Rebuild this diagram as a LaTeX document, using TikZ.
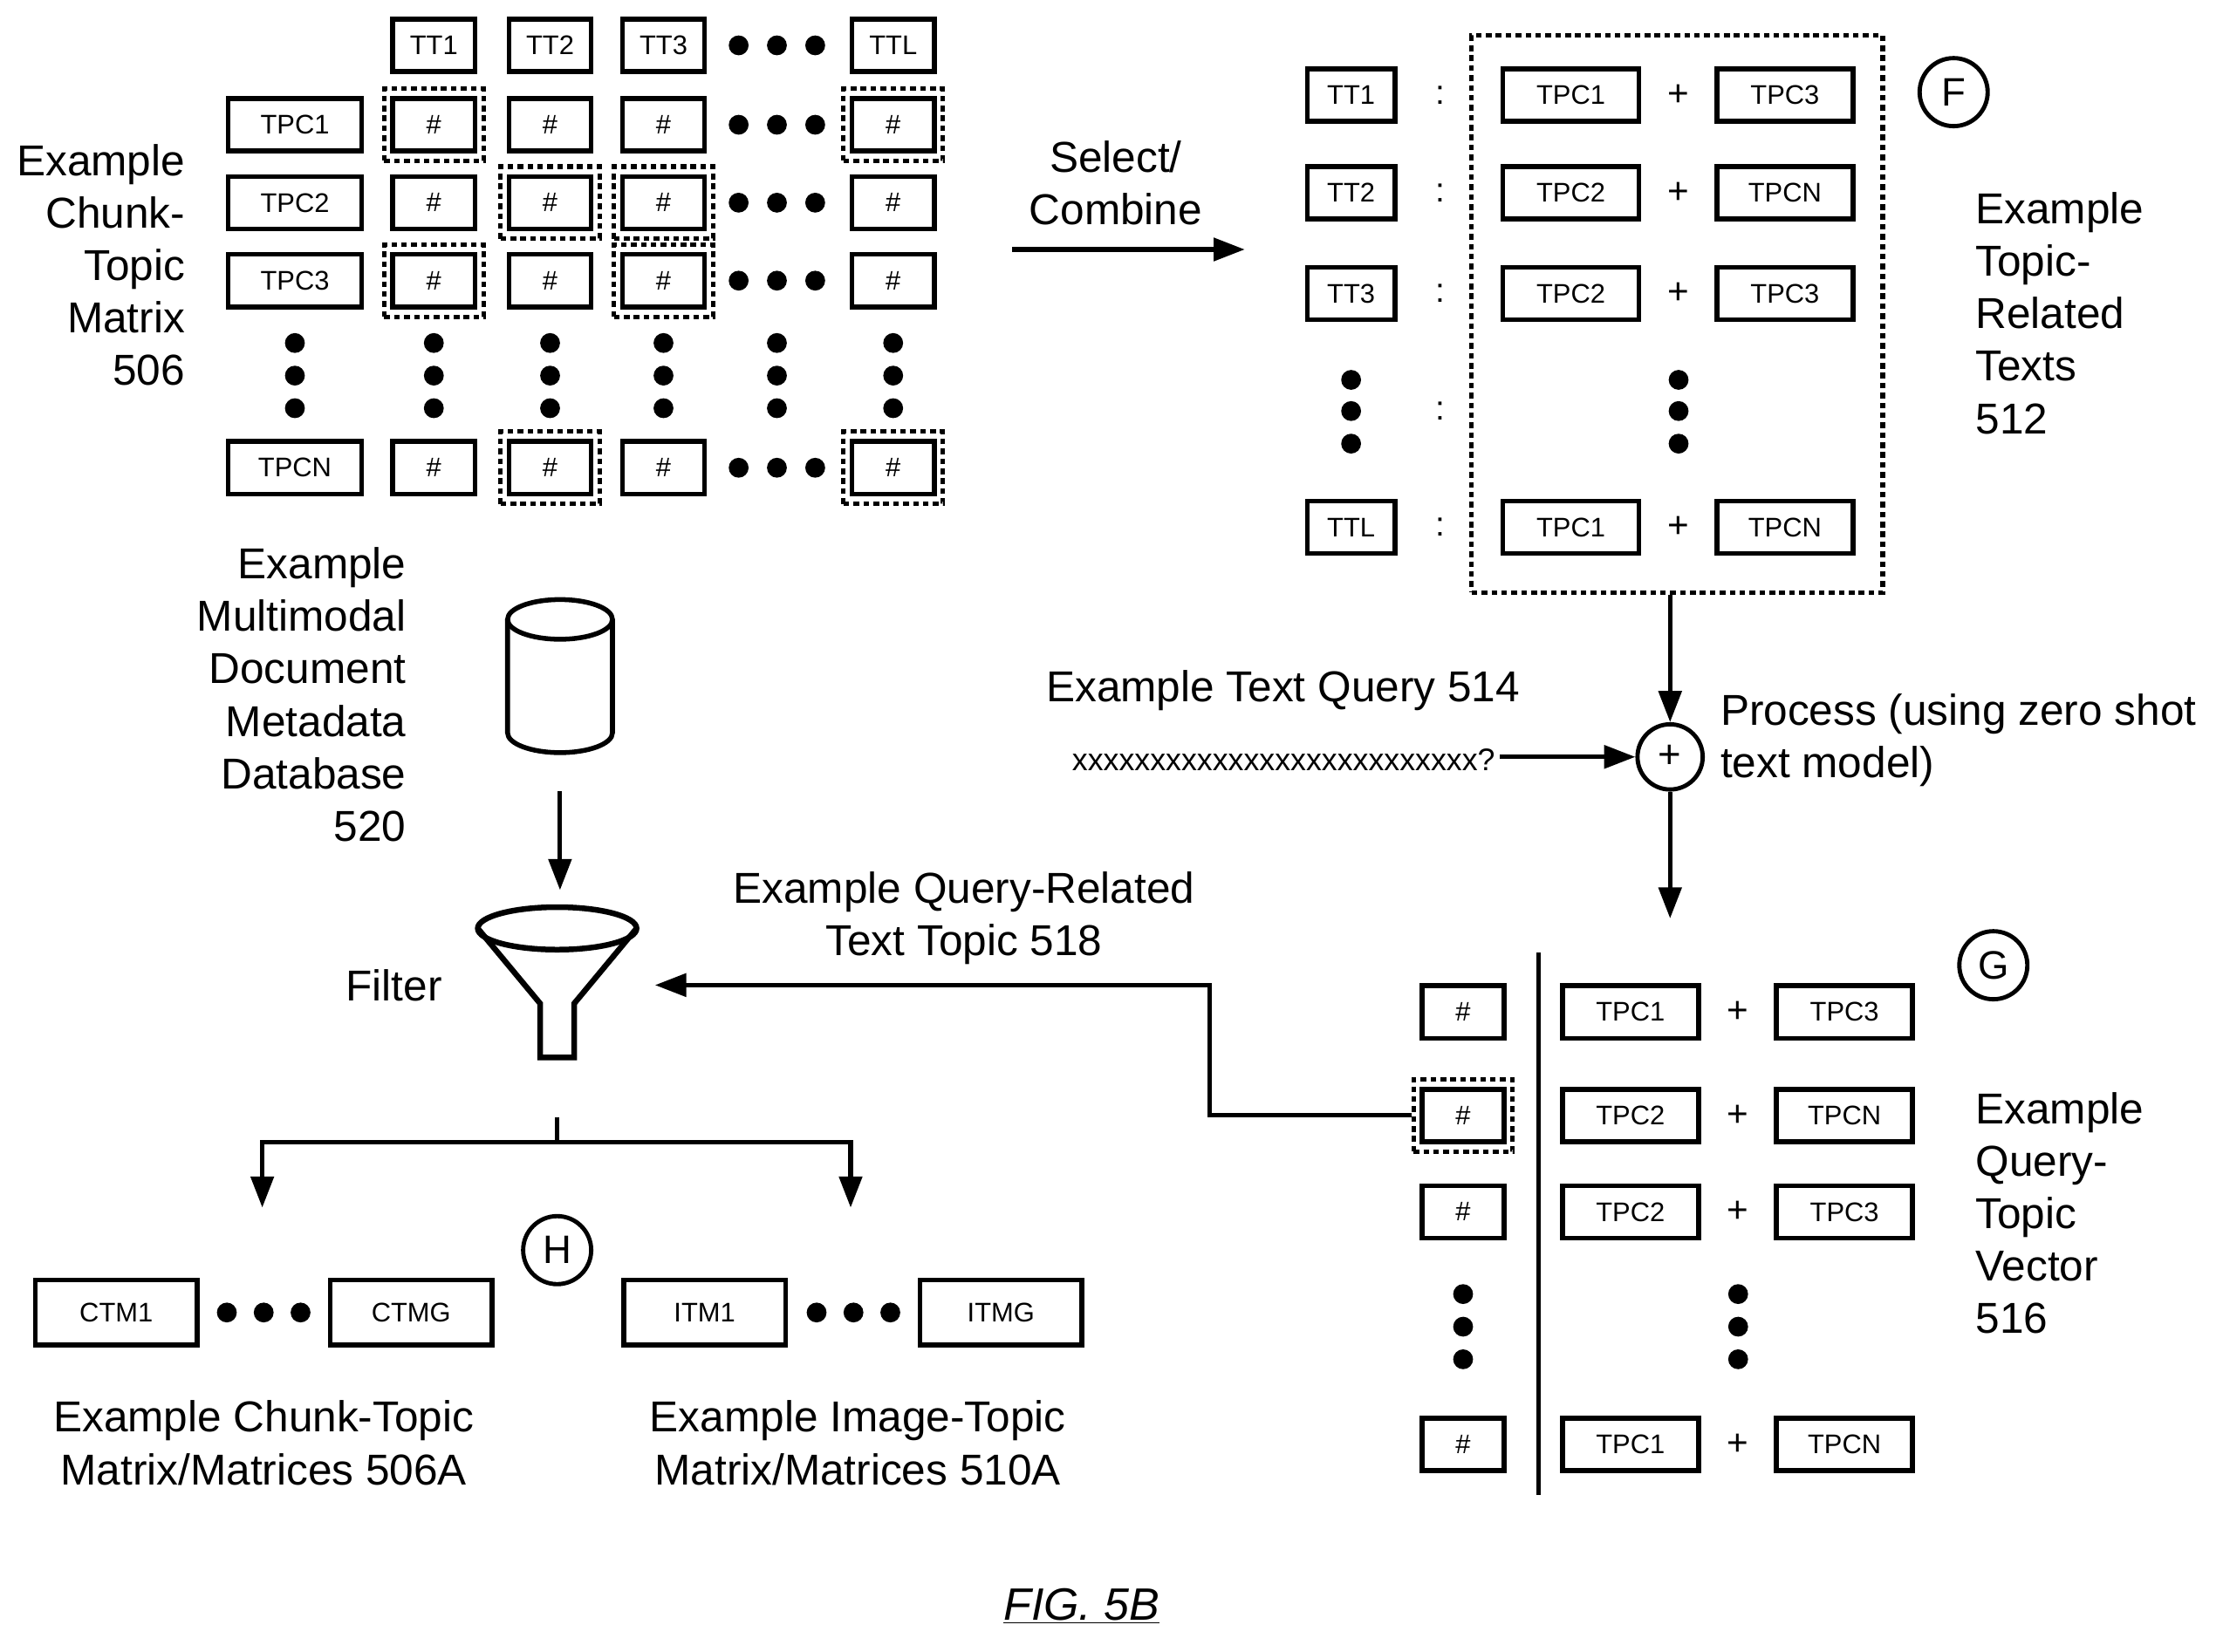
\documentclass[tikz,border=0pt]{standalone}
\usepackage{fontspec}
\setmainfont{Liberation Sans}
\usetikzlibrary{arrows.meta,shapes.geometric}
\begin{document}
\begin{tikzpicture}[x=1pt,y=-1pt,
 bx/.style={draw,line width=3.4pt,minimum width=#1,minimum height=37pt,inner sep=0pt,font=\fontsize{19}{19}\selectfont},
 bx/.default=58pt,
 hl/.style={draw,dash pattern=on 4pt off 3pt,line width=3.2pt,minimum width=70pt,minimum height=51pt},
 lab/.style={font=\fontsize{30.5}{37}\selectfont,align=#1},
 lab/.default=center,
 dot/.style={circle,fill,inner sep=0pt,minimum size=14pt},
 arr/.style={line width=3.2pt,-{Triangle[length=22pt,width=16pt]}},
 ln/.style={line width=3.2pt},
 circ/.style={draw,circle,line width=3pt,minimum size=48pt,inner sep=0pt,font=\fontsize{28}{28}\selectfont}]
\useasboundingbox (0,0) rectangle (1568,1165);
% chunk-topic matrix
\foreach \n/\x in {TT1/306,TT2/388,TT3/468,TTL/630}{\node[bx] (h\n) at (\x,32) {\n};}
\foreach \i in {0,1,2}{\node[dot] (hd\i) at (521+27*\i,32) {};}
\foreach \r/\y in {TPC1/88,TPC2/143,TPC3/198,TPCN/330}{
 \node[bx=94pt] (r\r) at (208,\y) {\r};
 \foreach \c/\x in {TT1/306,TT2/388,TT3/468,TTL/630}{\node[bx] (c\r\c) at (\x,\y) {\#};}
 \foreach \i in {0,1,2}{\node[dot] (cd\r\i) at (521+27*\i,\y) {};}
}
\foreach \r/\c in {TPC1/TT1,TPC1/TTL,TPC2/TT2,TPC2/TT3,TPC3/TT1,TPC3/TT3,TPCN/TT2,TPCN/TTL}{\node[hl] (k\r\c) at (c\r\c) {};}
\foreach \x in {208,306,388,468,548,630}{\foreach \y in {242,265,288}{\node[dot] (v\x\y) at (\x,\y) {};}}
\node[lab=right,anchor=east] (l506) at (134,187) {Example\\Chunk-\\Topic\\Matrix\\506};
% select
\node[lab] (lsel) at (787,129) {Select/\\Combine};
\coordinate (s1) at (714,176); \coordinate (s2) at (878,176);
\draw[arr] (s1) -- (s2);
% topic related texts
\node[draw,dash pattern=on 4pt off 3pt,line width=3.2pt,minimum width=290pt,minimum height=393pt] (F) at (1183,221.5) {};
\foreach \n/\y/\a/\b in {TT1/67/TPC1/TPC3,TT2/136/TPC2/TPCN,TT3/207/TPC2/TPC3,TTL/372/TPC1/TPCN}{
 \node[bx=62pt] (t\n) at (953,\y) {\n};
 \node[font=\fontsize{24}{24}\selectfont] (col\n) at (1016,\y) {:};
 \node[bx=96pt] (ta\n) at (1108,\y) {\a};
 \node[font=\fontsize{26}{26}\selectfont] (tp\n) at (1184,\y) {+};
 \node[bx=96pt] (tb\n) at (1259,\y) {\b};
}
\node[font=\fontsize{24}{24}\selectfont] (colD) at (1016,290) {:};
\foreach \y in {268,290,313}{\node[dot] (td\y) at (953,\y) {}; \node[dot] (te\y) at (1184,\y) {};}
\node[circ] (cF) at (1378,65) {F};
\node[lab=left,anchor=west] (l512) at (1390,221) {Example\\Topic-\\Related\\Texts\\512};
% process
\node[draw,circle,line width=3pt,minimum size=46pt,inner sep=0pt,font=\fontsize{28}{28}\selectfont] (plus) at (1178,534) {+};
\draw[arr] (F.south -| plus) -- (plus.north);
\node[lab=left,anchor=west] (lproc) at (1210,522) {Process (using zero shot\\text model)};
\node[lab] (l514) at (905,487) {Example Text Query 514};
\node[font=\fontsize{22}{22}\selectfont,anchor=east] (q) at (1058,536) {xxxxxxxxxxxxxxxxxxxxxxxxxx?};
\draw[arr] (q.east |- plus) -- (plus.west);
\coordinate (g0) at (1178,648);
\draw[arr] (plus.south) -- (g0);
% query topic vector
\node (vl1) at (1085,672) {}; \node (vl2) at (1085,1055) {};
\draw[ln] (vl1.center) -- (vl2.center);
\foreach \k/\y/\a/\b in {1/714/TPC1/TPC3,2/787/TPC2/TPCN,3/855/TPC2/TPC3,4/1019/TPC1/TPCN}{
 \node[bx] (g\k) at (1032,\y) {\#};
 \node[bx=96pt] (ga\k) at (1150,\y) {\a};
 \node[font=\fontsize{26}{26}\selectfont] (gp\k) at (1226,\y) {+};
 \node[bx=96pt] (gb\k) at (1301,\y) {\b};
}
\node[hl] (gh2) at (g2) {};
\foreach \y in {913,936,959}{\node[dot] (gd\y) at (1032,\y) {}; \node[dot] (ge\y) at (1226,\y) {};}
\node[circ] (cG) at (1406,681) {G};
\node[lab=left,anchor=west] (l516) at (1390,856) {Example\\Query-\\Topic\\Vector\\516};
% filter
\node[lab] (l518) at (680,648) {Example Query-Related\\Text Topic 518};
\coordinate (fin) at (462,695);
\draw[arr] (gh2.west) -- (853,787) -- (853,695) -- (fin);
% database
\node[minimum width=74pt,minimum height=110pt] (db) at (395,477) {};
\draw[line width=3.4pt] (358,437) -- (358,517) arc (180:0:37 and 14) -- (432,437);
\draw[line width=3.4pt] (395,437) ellipse (37 and 14);
\node[lab=right,anchor=east] (l520) at (290,490) {Example\\Multimodal\\Document\\Metadata\\Database\\520};
\coordinate (ftop) at (395,628);
\draw[arr] (395,558) -- (ftop);
\draw[line width=4pt,fill=white] (337,655) -- (381,708) -- (381,746) -- (405,746) -- (405,708) -- (449,655);
\draw[line width=4pt] (393,655) ellipse (56 and 15);
\node[lab] (lfil) at (278,695) {Filter};
\coordinate (fb) at (393,788); \coordinate (fj) at (393,806);
\coordinate (fl) at (185,806); \coordinate (fr) at (600,806);
\coordinate (al) at (185,852); \coordinate (ar) at (600,852);
\draw[ln] (fb) -- (fj);
\draw[arr] (fj) -- (fl) -- (al);
\draw[arr] (fj) -- (fr) -- (ar);
\node[circ] (cH) at (393,882) {H};
\node[bx=114pt,minimum height=46pt] (ctm1) at (82,926) {CTM1};
\node[bx=114pt,minimum height=46pt] (ctmg) at (290,926) {CTMG};
\node[bx=114pt,minimum height=46pt] (itm1) at (497,926) {ITM1};
\node[bx=114pt,minimum height=46pt] (itmg) at (706,926) {ITMG};
\foreach \i in {0,1,2}{\node[dot] (cd\i) at (160+26*\i,926) {}; \node[dot] (id\i) at (576+26*\i,926) {};}
\node[lab] (l506a) at (186,1018) {Example Chunk-Topic\\Matrix/Matrices 506A};
\node[lab] (l510a) at (605,1018) {Example Image-Topic\\Matrix/Matrices 510A};
\node[font=\fontsize{32}{32}\selectfont\itshape] (fig) at (763,1133) {\underline{FIG. 5B}};
\end{tikzpicture}
\end{document}
